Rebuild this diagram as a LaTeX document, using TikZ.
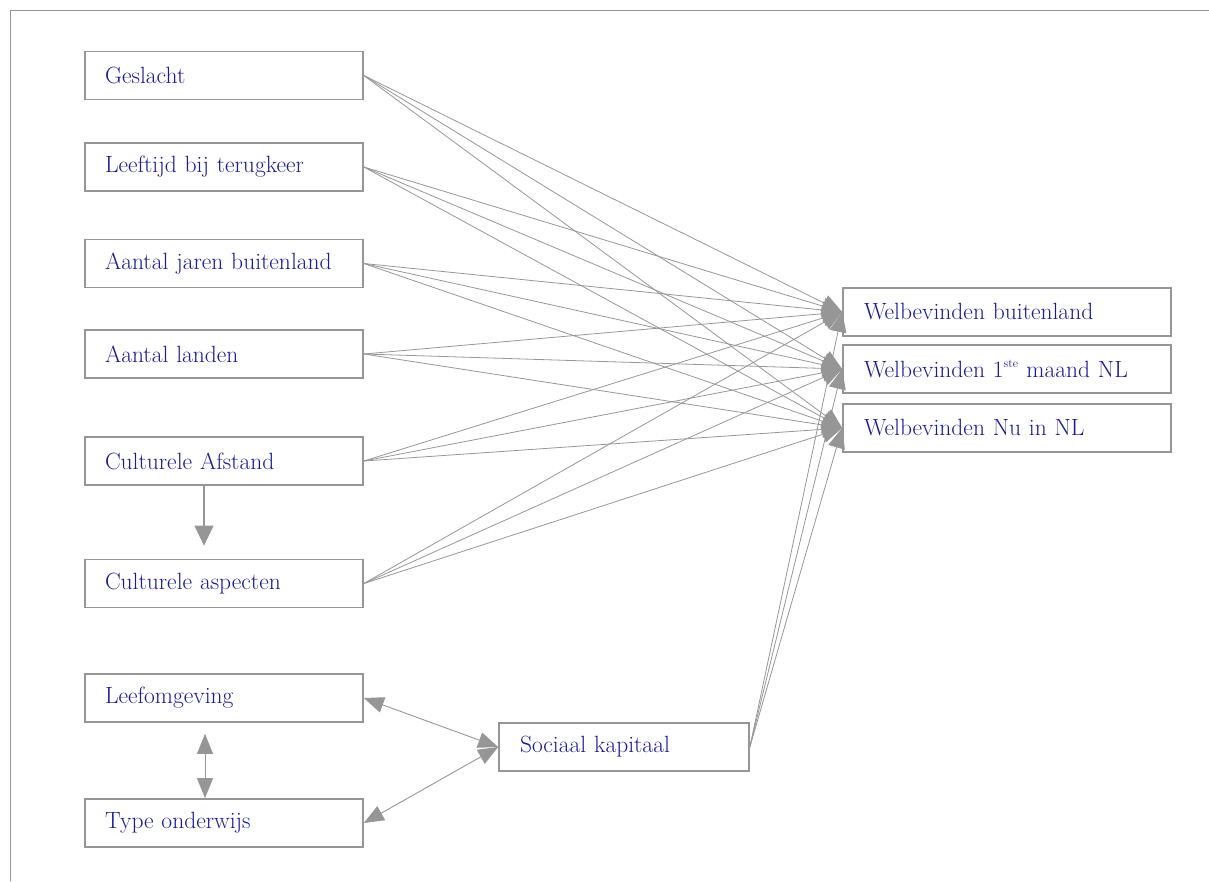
\documentclass[tikz,border=0pt]{standalone}
\usetikzlibrary{arrows.meta}
\definecolor{txt}{RGB}{26,26,150}
\definecolor{ln}{RGB}{150,150,150}
\begin{document}
\begin{tikzpicture}[x=1pt,y=-1pt,
  box/.style={draw=ln, line width=1.7pt, minimum width=278pt, minimum height=48pt,
    text width=238pt, align=left, inner xsep=20pt, inner ysep=0pt,
    font=\fontsize{23.5}{27}\selectfont, text=txt},
  skbox/.style={box, minimum width=250pt, text width=208pt, inner xsep=21pt},
  rbox/.style={box, minimum width=328pt, text width=286pt, inner xsep=21pt},
  conn/.style={draw=ln, line width=0.8pt, -{Triangle[length=20pt,width=17pt]}},
  dconn/.style={draw=ln, line width=0.9pt, {Triangle[length=20pt,width=16pt]}-{Triangle[length=20pt,width=16pt]}},
]
\useasboundingbox (0,0) rectangle (1209,881);
\draw[ln, line width=1.5pt] (1209,10.5) -- (10.5,10.5) -- (10.5,881);

\node[box] (g)   at (224,75.5)  {Geslacht};
\node[box] (l)   at (224,167)   {Leeftijd bij terugkeer};
\node[box] (aj)  at (224,263.5) {Aantal jaren buitenland};
\node[box] (al)  at (224,354)   {Aantal landen};
\node[box] (ca)  at (224,461)   {Culturele Afstand};
\node[box] (cas) at (224,583.5) {Culturele aspecten};
\node[box] (le)  at (224,698)   {Leefomgeving};
\node[box] (to)  at (224,823)   {Type onderwijs};
\node[skbox] (sk) at (624,747)  {Sociaal kapitaal};

\node[rbox] (wb) at (1007,312) {Welbevinden buitenland};
\node[rbox] (w1) at (1007,369) {Welbevinden 1\textsuperscript{\fontsize{12}{12}\selectfont ste} maand NL};
\node[rbox] (wn) at (1007,428) {Welbevinden Nu in NL};

\foreach \s in {g,l,aj,al,ca,cas,sk}
  \foreach \t in {wb,w1,wn}
    \draw[conn] (\s.east) -- (\t.west);

\draw[conn, line width=1.2pt, -{Triangle[length=20pt,width=19pt]}, shorten >=13pt]
  ([xshift=-20pt]ca.south) -- ([xshift=-20pt]cas.north);
\draw[dconn, shorten <=11pt] ([xshift=-19pt]le.south) -- ([xshift=-19pt]to.north);
\draw[dconn] (le.east) -- (sk.west);
\draw[dconn] (to.east) -- (sk.west);
\end{tikzpicture}
\end{document}
